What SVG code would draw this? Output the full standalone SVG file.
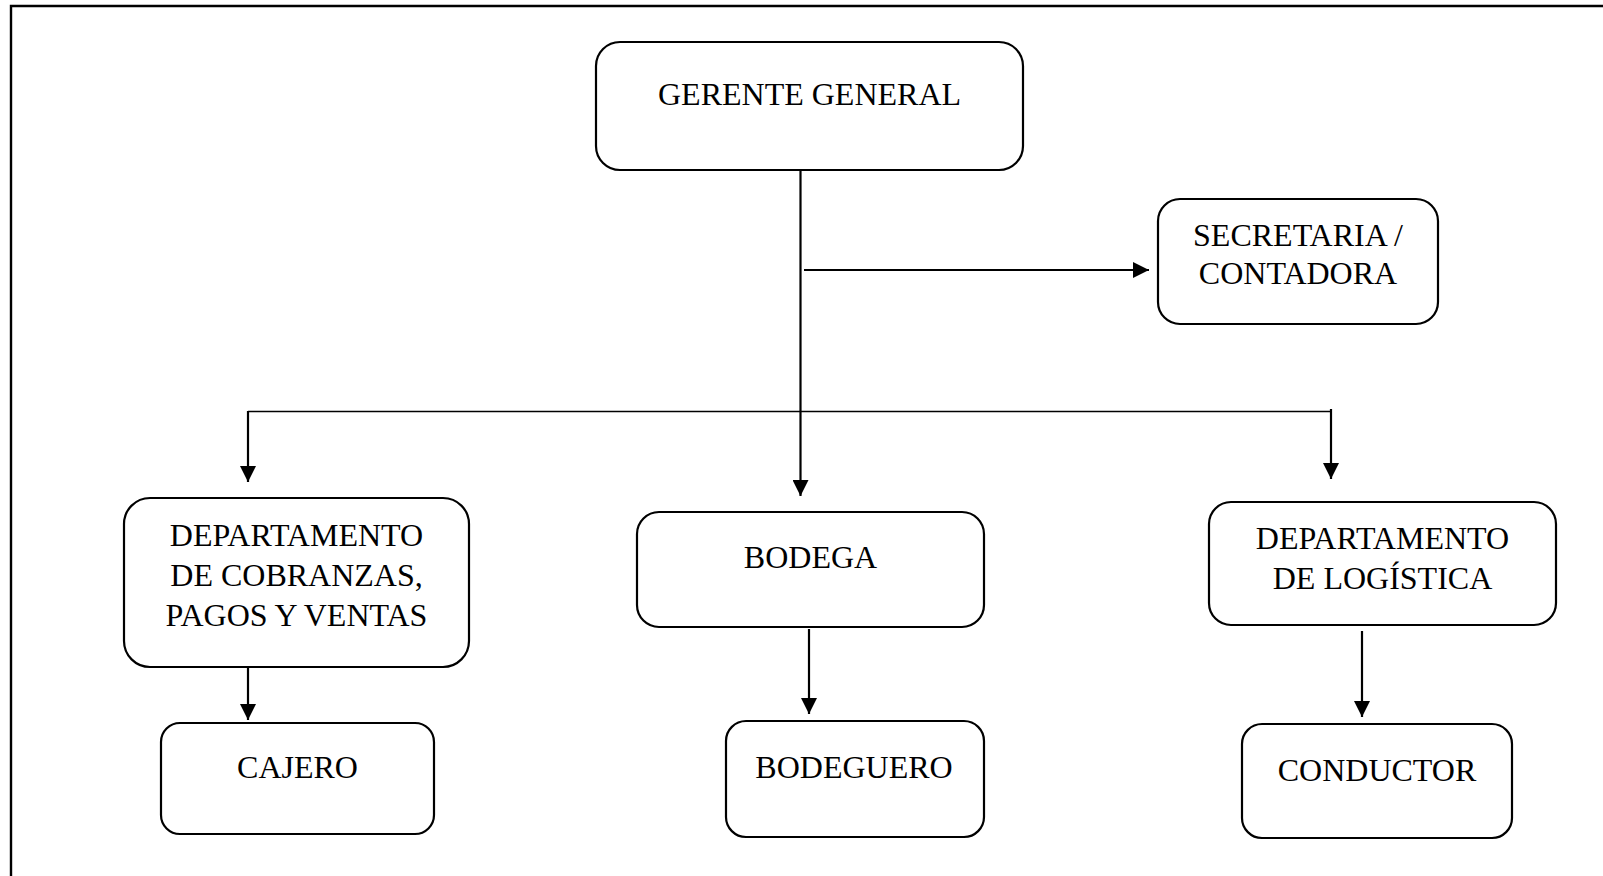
<svg xmlns="http://www.w3.org/2000/svg" width="1603" height="876" viewBox="0 0 1603 876">
  <defs>
    <style>
      .box { fill: #ffffff; stroke: #000000; stroke-width: 2.2; }
      .lbl { font-family: "Liberation Serif", "Times New Roman", serif; font-size: 32px; fill: #000000; text-anchor: middle; }
      .wire { fill: none; stroke: #000000; stroke-width: 2.2; }
      .bus { fill: none; stroke: #000000; stroke-width: 1.3; }
    </style>
    <marker id="head" markerUnits="userSpaceOnUse" markerWidth="16" markerHeight="16" viewBox="0 0 16 16" refX="16" refY="8" orient="auto">
      <path d="M0,0 L16,8 L0,16 Z" fill="#000000"/>
    </marker>
  </defs>

  <rect width="1603" height="876" fill="#ffffff"/>

  <!-- page frame (runs off the right and bottom edges) -->
  <path d="M11,880 L11,6 L1610,6" fill="none" stroke="#000000" stroke-width="2.4"/>

  <!-- connectors -->
  <g id="connectors">
    <line class="wire" x1="800.5" y1="170" x2="800.5" y2="496" marker-end="url(#head)"/>
    <line class="wire" x1="804" y1="270" x2="1149" y2="270" marker-end="url(#head)"/>
    <line class="bus" x1="248" y1="411.5" x2="1331" y2="411.5"/>
    <line class="wire" x1="248" y1="411" x2="248" y2="482" marker-end="url(#head)"/>
    <line class="wire" x1="1331" y1="409" x2="1331" y2="479" marker-end="url(#head)"/>
    <line class="wire" x1="248" y1="667" x2="248" y2="720" marker-end="url(#head)"/>
    <line class="wire" x1="809" y1="629" x2="809" y2="714" marker-end="url(#head)"/>
    <line class="wire" x1="1362" y1="631" x2="1362" y2="717" marker-end="url(#head)"/>
  </g>

  <g id="gerente-general">
    <rect class="box" x="596" y="42" width="427" height="128" rx="24"/>
    <text class="lbl" x="809.5" y="105">GERENTE GENERAL</text>
  </g>

  <g id="secretaria">
    <rect class="box" x="1158" y="199" width="280" height="125" rx="22"/>
    <text class="lbl" x="1298" y="246">SECRETARIA /</text>
    <text class="lbl" x="1298" y="284">CONTADORA</text>
  </g>

  <g id="dep-cobranzas">
    <rect class="box" x="124" y="498" width="345" height="169" rx="26"/>
    <text class="lbl" x="296.5" y="546">DEPARTAMENTO</text>
    <text class="lbl" x="296.5" y="586">DE COBRANZAS,</text>
    <text class="lbl" x="296.5" y="626">PAGOS Y VENTAS</text>
  </g>

  <g id="bodega">
    <rect class="box" x="637" y="512" width="347" height="115" rx="22"/>
    <text class="lbl" x="810.5" y="568">BODEGA</text>
  </g>

  <g id="dep-logistica">
    <rect class="box" x="1209" y="502" width="347" height="123" rx="22"/>
    <text class="lbl" x="1382.5" y="549">DEPARTAMENTO</text>
    <text class="lbl" x="1382.5" y="589">DE LOGÍSTICA</text>
  </g>

  <g id="cajero">
    <rect class="box" x="161" y="723" width="273" height="111" rx="19"/>
    <text class="lbl" x="297.5" y="778">CAJERO</text>
  </g>

  <g id="bodeguero">
    <rect class="box" x="726" y="721" width="258" height="116" rx="20"/>
    <text class="lbl" x="854" y="778">BODEGUERO</text>
  </g>

  <g id="conductor">
    <rect class="box" x="1242" y="724" width="270" height="114" rx="20"/>
    <text class="lbl" x="1377" y="781">CONDUCTOR</text>
  </g>
</svg>
